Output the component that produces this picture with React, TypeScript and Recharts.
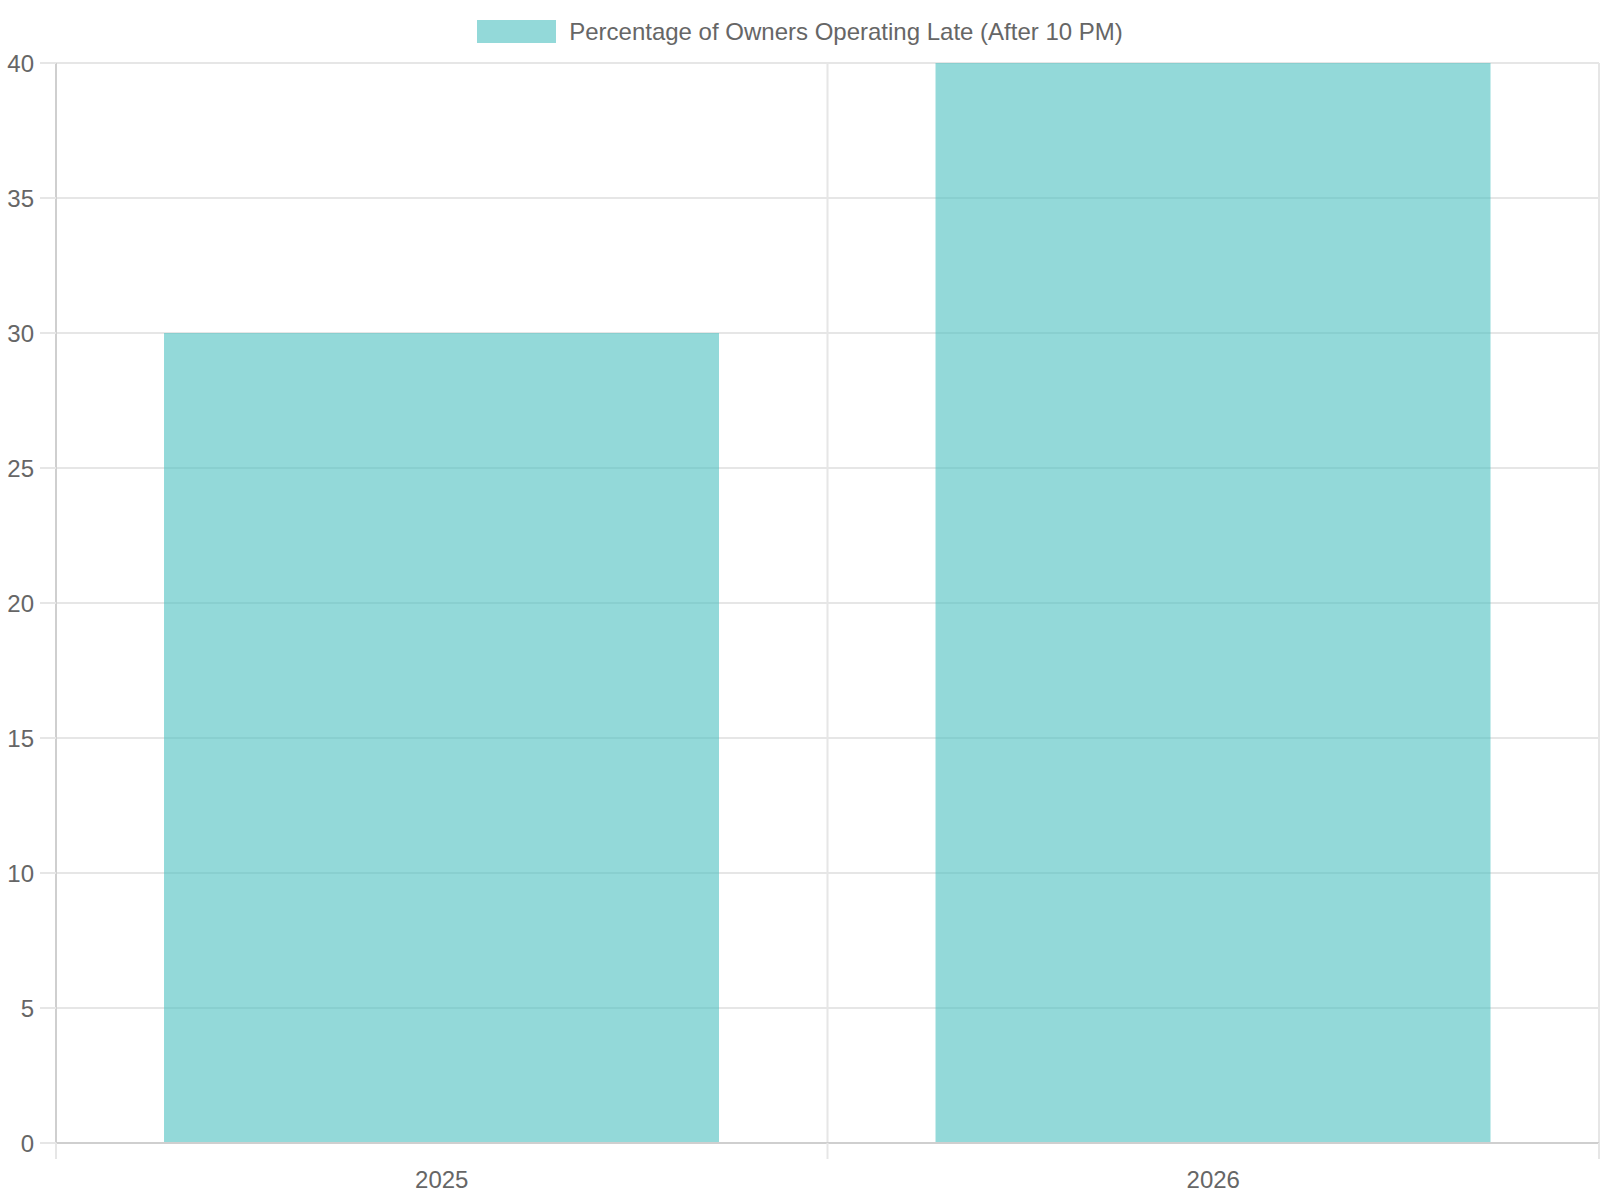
import { BarChart, Bar, XAxis, YAxis, CartesianGrid, Legend } from 'recharts';

const years = ['2025', '2026'];
const lateOwnersPct = [30, 40];
const yTicks = [0, 5, 10, 15, 20, 25, 30, 35, 40];
const seriesName = 'Percentage of Owners Operating Late (After 10 PM)';

const data = years.map((year, i) => ({ year, pct: lateOwnersPct[i] }));

const FONT = "'Liberation Sans', Arial, Helvetica, sans-serif";
const TEXT = '#666666';
const GRID = '#e6e6e6';
const AXIS = '#cfcfcf';
const BAR = 'rgb(75, 192, 192)';
const LABEL_GAP = 28;

function LegendContent() {
    return (
        <div
            style={{
                height: 63,
                display: 'flex',
                justifyContent: 'center',
                alignItems: 'flex-start',
                fontFamily: FONT,
            }}
        >
            <span
                style={{
                    display: 'inline-block',
                    width: 79,
                    height: 23,
                    marginTop: 20,
                    background: BAR,
                    opacity: 0.6,
                }}
            />
            <span
                style={{
                    marginTop: 20,
                    marginLeft: 13,
                    fontSize: 24,
                    lineHeight: '23px',
                    color: TEXT,
                }}
            >
                {seriesName}
            </span>
        </div>
    );
}

// category label in the middle, tick marks on the category edges (like chart.js offset grid)
function YearTick(props: any) {
    const { x, y, payload, index, visibleTicksCount, width } = props;
    const half = payload?.offset ? payload.offset : width / visibleTicksCount / 2;
    const axisY = y - LABEL_GAP;
    const isLast = index === visibleTicksCount - 1;
    return (
        <g>
            <line x1={x - half} x2={x - half} y1={axisY} y2={axisY + 16} stroke={GRID} strokeWidth={2} />
            {isLast && (
                <line x1={x + half} x2={x + half} y1={axisY} y2={axisY + 16} stroke={GRID} strokeWidth={2} />
            )}
            <text x={x} y={y} dy="0.71em" textAnchor="middle" fontSize={24} fill={TEXT} fontFamily={FONT}>
                {payload.value}
            </text>
        </g>
    );
}

// vertical grid on the category edges
function edgeLines({ offset }: any) {
    const step = offset.width / years.length;
    return years.map((_, i) => offset.left + i * step).concat(offset.left + offset.width);
}

export default function App() {
    return (
        <div style={{ position: 'absolute', left: 0, top: 0, width: 1600, height: 1200, background: '#fff' }}>
            <BarChart
                width={1600}
                height={1200}
                data={data}
                margin={{ top: 0, right: 1, left: 0, bottom: 0 }}
                barCategoryGap="14%"
                style={{ fontFamily: FONT }}
            >
                <Legend
                    verticalAlign="top"
                    align="center"
                    content={<LegendContent />}
                    wrapperStyle={{ left: 0, top: 0, width: 1600, height: 63 }}
                />
                <CartesianGrid stroke={GRID} strokeWidth={2} verticalCoordinatesGenerator={edgeLines} />
                <XAxis
                    dataKey="year"
                    height={57}
                    tickSize={0}
                    tickMargin={LABEL_GAP}
                    tickLine={false}
                    axisLine={{ stroke: AXIS, strokeWidth: 2 }}
                    tick={<YearTick />}
                />
                <YAxis
                    width={56}
                    domain={[0, 40]}
                    ticks={yTicks}
                    interval={0}
                    tickSize={16}
                    tickMargin={6}
                    tickLine={{ stroke: GRID, strokeWidth: 2 }}
                    axisLine={{ stroke: AXIS, strokeWidth: 2 }}
                    tick={{ fontSize: 24, fill: TEXT }}
                />
                <Bar dataKey="pct" name={seriesName} fill={BAR} fillOpacity={0.6} isAnimationActive={false} />
            </BarChart>
        </div>
    );
}
